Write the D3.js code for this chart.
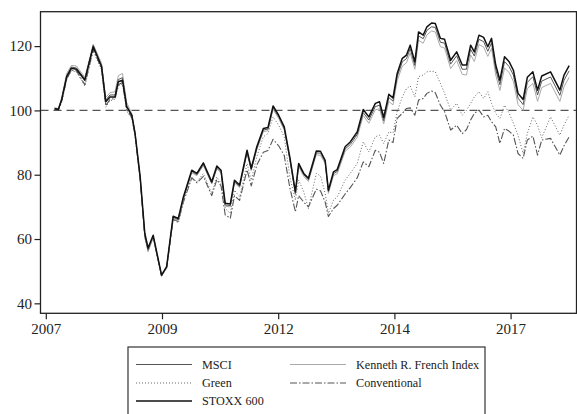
<!DOCTYPE html>
<html><head><meta charset="utf-8">
<script src="https://cdn.jsdelivr.net/npm/d3@7"></script>
<style>body{margin:0;background:#fff}svg{display:block}</style>
</head><body>
<svg id="c" width="577" height="414"></svg>
<script>
const dates = [2007.19,2007.27,2007.34,2007.45,2007.55,2007.66,2007.84,2008.02,2008.20,2008.29,2008.38,2008.49,2008.56,2008.65,2008.74,2008.85,2008.92,2009.03,2009.13,2009.20,2009.31,2009.49,2009.60,2009.74,2009.85,2009.96,2010.14,2010.25,2010.39,2010.57,2010.68,2010.77,2010.86,2010.97,2011.06,2011.17,2011.33,2011.42,2011.54,2011.68,2011.78,2011.89,2012.01,2012.13,2012.25,2012.37,2012.44,2012.55,2012.65,2012.82,2012.91,2013.01,2013.08,2013.19,2013.27,2013.44,2013.55,2013.70,2013.83,2013.95,2014.09,2014.18,2014.27,2014.38,2014.47,2014.56,2014.67,2014.76,2014.84,2014.94,2015.02,2015.12,2015.20,2015.30,2015.38,2015.49,2015.58,2015.71,2015.84,2015.96,2016.05,2016.14,2016.22,2016.32,2016.42,2016.51,2016.59,2016.68,2016.77,2016.87,2016.97,2017.06,2017.16,2017.27,2017.36,2017.48,2017.58,2017.67,2017.86,2018.06,2018.15,2018.26];

const stoxx = [100.6,100.3,103.2,110.5,113.1,112.8,109.4,119.8,113.6,102.7,104.2,104.2,108.9,109.4,101.1,98.5,92.9,79.4,61.8,57.2,61.2,48.8,51.4,67.1,66.4,73.1,81.4,80.4,83.7,77.8,82.7,81.4,71.1,70.9,78.3,76.8,87.6,82,88.7,94.4,94.7,101.4,98.5,94.9,85.5,74.7,83.5,80.4,78.9,87.4,87.3,84.5,75.2,80.9,81.6,88.7,90.2,93.3,100.3,98,102.2,102.7,97.8,105,103.9,111.5,116.2,117.2,120.3,115.1,124.4,123.4,126,127.2,127,122.4,122.1,115.6,118.2,114.1,114.1,120.3,118.2,123.4,122.7,119.8,122.4,114.1,109.4,116.7,115.1,112.5,105.3,103.4,110.3,112,106.3,110.7,112,106.3,111,113.9];

const msci = [100.6,100.4,103.4,110.8,113.5,113.2,109.8,120.2,114,103.2,104.8,104.8,109.6,110.2,101.5,98.6,92.8,79,61.2,56.6,60.8,48.6,51.2,66.8,66,72.6,81,80,83.2,77.4,82.2,81,70.6,70.4,77.8,76.4,87,81.6,88.2,93.9,94.2,100.8,98,94.4,85,74.2,83,80,78.4,86.8,86.7,84,74.8,80.3,81,88,89.4,92.5,99.3,97,101.2,101.6,96.8,104,102.9,110.5,115.1,116.1,119.2,114,123.2,122.3,124.9,126,125.8,121.2,120.9,114.4,117,112.8,112.8,119,116.9,122.1,121.4,118.4,121,112.7,108,115.2,113.6,111,103.8,101.8,108.7,110.5,104.8,109.1,110.4,104.7,109.4,112.3];

const french = [100.8,100.6,104,111.5,114,113.8,110.3,120.6,114.6,104,105.5,105.8,110.8,111.5,102.5,99,93,78.8,60.6,56,60.4,48.4,51,66.4,65.7,72.2,80.6,79.7,82.9,77.1,81.8,80.6,70.2,70,77.4,76,86.6,81.3,87.8,93.4,93.7,100.3,97.5,93.9,84.6,73.7,82.5,79.5,77.9,86.2,86,83.5,74.2,79.7,80.3,87.3,88.6,91.6,98.4,96,100.2,100.5,95.8,102.8,101.7,109.2,113.8,114.8,117.9,112.8,121.8,120.9,123.5,124.7,124.4,119.8,119.4,113,115.5,111.2,111,117.3,115.2,120.5,119.7,116.8,119.3,111,106.2,113.2,111.8,109,101.8,100,106.8,108.4,102.8,107.1,108.4,102.8,107.4,110.3];

const green = [100.3,100,102.5,109.5,112.3,112,107.5,118.5,112.5,101,103,103.5,107.5,108.3,99.8,97.5,92,78.5,60.5,56.3,60.5,48.5,51,66,65,71.5,79.3,77.8,80.4,74.2,79.3,77.3,69.5,68,75.2,73.1,83.5,78.3,85.6,91.8,92.8,98,95.4,91.8,79.3,72.1,78.3,74.7,69.5,80.4,79.6,74.2,68,72.1,73.1,78.3,80.4,83.5,90.2,87.1,91.8,92.3,89.7,93.3,93,99.6,104.2,106.8,107.6,104.2,110.5,111,112,112.2,112,108.4,105.3,100.1,102.2,98.5,100,102.2,104.2,105.8,103.7,105.8,102.2,99.1,97.5,101.6,99.1,96,92.3,86.6,92.8,98,95.4,91.5,98,92.3,95.5,98.5];

const conventional = [100.4,100.1,102.7,109.8,112.5,112.3,108,119,113,101.5,103.4,103.7,108,108.7,100.3,97.8,92.3,78.7,60.8,56.5,60.6,48.6,51,66.2,65.4,71.5,79,77.5,79.5,73.5,78.5,76.5,67.5,66.5,73.5,72,81.5,76.5,83,87,87.5,91,89,86,76,68.5,73.5,71.5,70,75.5,75,71.5,67,69.5,70.5,74,76,79,84,82.5,87.6,87,83.5,90.8,90,97.5,99.1,100.6,100.8,98.5,103.2,103.7,105.3,106,105.5,101.6,99.6,93.9,95.4,92.8,94,97,99.1,100.1,98,98.5,96.5,94.9,89.7,94.4,93.5,92.3,86.6,85.1,90.8,92,86.1,90.8,91.3,86.1,89,91.8];

const seriesNames = ["MSCI","Kenneth R. French Index","Green","Conventional","STOXX 600"];
const xTickValues = [2007, 2009.5, 2012, 2014.5, 2017];
const xTickLabels = ["2007","2009","2012","2014","2017"];
const yTickValues = [40, 60, 80, 100, 120];
const baseline = 100;

const svg = d3.select("#c");
const L = 40.5, R = 576.5, T = 11.7, B = 313.3;
const x = d3.scaleLinear().domain([2006.886, 2018.418]).range([L, R]);
const y = d3.scaleLinear().domain([36.9, 130.7]).range([B, T]);
const font = "'Liberation Serif','Times New Roman',serif";

svg.append("defs").append("clipPath").attr("id","pc")
  .append("rect").attr("x",L).attr("y",T).attr("width",R-L).attr("height",B-T);

// baseline dashed
svg.append("line").attr("x1",L).attr("x2",R).attr("y1",y(baseline)).attr("y2",y(baseline))
  .attr("stroke","#555").attr("stroke-width",1.1).attr("stroke-dasharray","8,5");

const styles = {
  "MSCI": {data: msci, color:"#555", w:1, dash:null},
  "Kenneth R. French Index": {data: french, color:"#aaa", w:1, dash:null},
  "Green": {data: green, color:"#666", w:1, dash:"1,2"},
  "Conventional": {data: conventional, color:"#555", w:1.1, dash:"7,2,1.5,2"},
  "STOXX 600": {data: stoxx, color:"#111", w:1.5, dash:null}
};
const drawOrder = ["Conventional","Green","Kenneth R. French Index","MSCI","STOXX 600"];
const line = d3.line().x((d,i)=>x(dates[i])).y(d=>y(d));
const g = svg.append("g").attr("clip-path","url(#pc)");
drawOrder.forEach(n=>{
  const s = styles[n];
  g.append("path").attr("d", line(s.data)).attr("fill","none")
    .attr("stroke",s.color).attr("stroke-width",s.w)
    .attr("stroke-dasharray",s.dash).attr("stroke-linejoin","round");
});

// frame
svg.append("rect").attr("x",L).attr("y",T).attr("width",R-L).attr("height",B-T)
  .attr("fill","none").attr("stroke","#222").attr("stroke-width",1.3);

// axes
const ya = svg.append("g").attr("transform",`translate(${L},0)`)
  .call(d3.axisLeft(y).tickValues(yTickValues).tickSize(6).tickPadding(2.5));
const xa = svg.append("g").attr("transform",`translate(0,${B})`)
  .call(d3.axisBottom(x).tickValues(xTickValues).tickSize(6).tickPadding(4.5)
    .tickFormat((d,i)=>xTickLabels[i]));
[ya,xa].forEach(a=>{
  a.select(".domain").remove();
  a.selectAll("line").attr("stroke","#222").attr("stroke-width",1.2);
  a.selectAll("text").attr("font-family",font).attr("font-size",15).attr("fill","#222");
});

// legend
const lg = svg.append("g");
lg.append("rect").attr("x",128).attr("y",347).attr("width",357).attr("height",80)
  .attr("fill","#fff").attr("stroke","#333").attr("stroke-width",1.2);
const legendItems = [
  {n:"MSCI", x:136, y:364.5},
  {n:"Kenneth R. French Index", x:290, y:364.5},
  {n:"Green", x:136, y:383},
  {n:"Conventional", x:290, y:383},
  {n:"STOXX 600", x:136, y:401}
];
legendItems.forEach(it=>{
  const s = styles[it.n];
  lg.append("line").attr("x1",it.x).attr("x2",it.x+56).attr("y1",it.y).attr("y2",it.y)
    .attr("stroke",s.color).attr("stroke-width",s.w).attr("stroke-dasharray",s.dash);
  lg.append("text").attr("x",it.x+66).attr("y",it.y).attr("dy","0.33em")
    .attr("font-family",font).attr("font-size",12.2).attr("fill","#222").text(it.n);
});
</script>
</body></html>
